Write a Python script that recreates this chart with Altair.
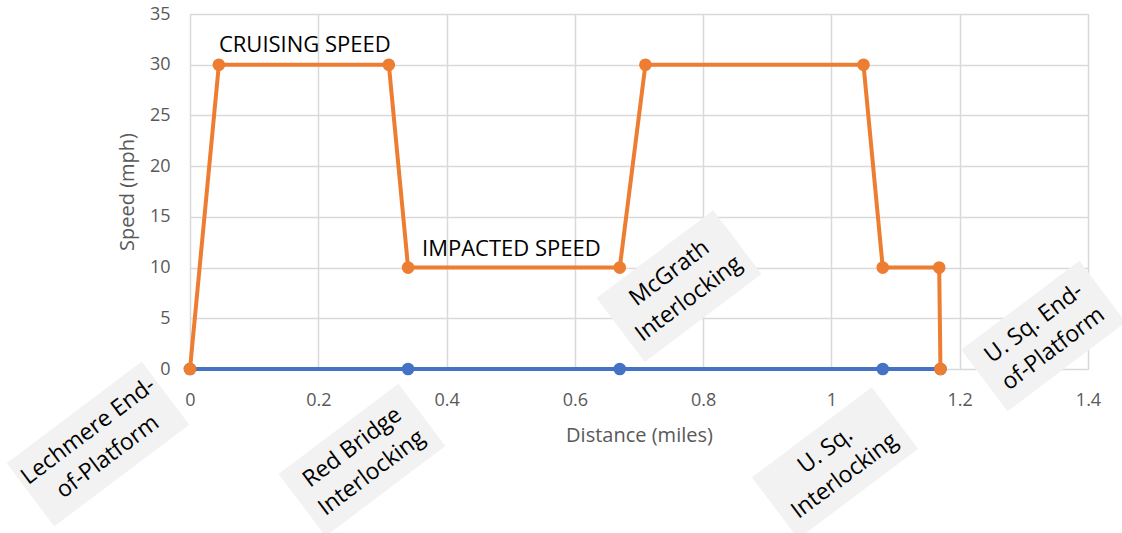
import altair as alt
import pandas as pd

# ---- data ----
dist_orange = [0, 0.045, 0.31, 0.34, 0.67, 0.71, 1.05, 1.08, 1.168, 1.17]
speed_orange = [0, 30, 30, 10, 10, 30, 30, 10, 10, 0]
dist_blue = [0, 0.34, 0.67, 1.08, 1.17]
speed_blue = [0, 0, 0, 0, 0]

x_ticks = [0, 0.2, 0.4, 0.6, 0.8, 1.0, 1.2, 1.4]
y_ticks = [0, 5, 10, 15, 20, 25, 30, 35]

speed_labels = ["CRUISING SPEED", "IMPACTED SPEED"]
speed_label_x = [0.179, 0.501]
speed_label_y = [31.28, 11.14]

place_line1 = ["Lechmere End-", "Red Bridge", "McGrath", "U. Sq.", "U. Sq. End-"]
place_line2 = ["of-Platform", "Interlocking", "Interlocking", "Interlocking", "of-Platform"]
place_x = [-0.1434, 0.2681, 0.7624, 1.0056, 1.3306]
place_y = [-7.39, -8.97, 8.18, -9.27, 3.25]
box_w = [169, 150, 146, 150, 148]
box_h = [79, 78, 80, 77, 77]

ORANGE = "#ED7D31"
BLUE = "#4472C4"
FONT = "Open Sans"

orange_df = pd.DataFrame({"d": dist_orange, "s": speed_orange, "o": list(range(len(dist_orange)))})
blue_df = pd.DataFrame({"d": dist_blue, "s": speed_blue, "o": list(range(len(dist_blue)))})
speed_df = pd.DataFrame({"t": speed_labels, "d": speed_label_x, "s": speed_label_y})
place_df = pd.DataFrame({
    "l1": place_line1, "l2": place_line2, "d": place_x, "s": place_y,
    "path": [f"M{-w/2},{-h/2}L{w/2},{-h/2}L{w/2},{h/2}L{-w/2},{h/2}Z" for w, h in zip(box_w, box_h)],
})

x_scale = alt.Scale(domain=[0, 1.4], nice=False, zero=False)
y_scale = alt.Scale(domain=[0, 35], nice=False)

x_axis = alt.Axis(values=x_ticks, format="~g", title="Distance (miles)", grid=True,
                  gridColor="#D9D9D9", gridWidth=1.5, domain=False, ticks=False, tickSize=0,
                  labelFont=FONT, labelFontSize=18, labelColor="#595959", labelPadding=22,
                  titleFont=FONT, titleFontSize=20, titleColor="#595959", titleFontWeight="normal",
                  titlePadding=16, labelFlush=False)
y_axis = alt.Axis(values=y_ticks, title="Speed (mph)", grid=True,
                  gridColor="#D9D9D9", gridWidth=1.5, domain=False, ticks=False, tickSize=0,
                  labelFont=FONT, labelFontSize=18, labelColor="#595959", labelPadding=20,
                  titleFont=FONT, titleFontSize=20, titleColor="#595959", titleFontWeight="normal",
                  titlePadding=12, labelFlush=False)

X = alt.X("d:Q", scale=x_scale, axis=x_axis)
Y = alt.Y("s:Q", scale=y_scale, axis=y_axis)

blue_line = alt.Chart(blue_df).mark_line(color=BLUE, strokeWidth=4).encode(x=X, y=Y, order="o:Q")
blue_pts = alt.Chart(blue_df).mark_circle(color=BLUE, size=160, opacity=1).encode(x=X, y=Y)

orange_line = alt.Chart(orange_df).mark_line(color=ORANGE, strokeWidth=4).encode(x=X, y=Y, order="o:Q")
orange_pts = alt.Chart(orange_df).mark_circle(color=ORANGE, size=160, opacity=1).encode(x=X, y=Y)

speed_text = alt.Chart(speed_df).mark_text(
    font=FONT, fontSize=22, color="#000000", align="center", baseline="alphabetic"
).encode(x=X, y=Y, text="t:N")

boxes = alt.Chart(place_df).mark_point(
    filled=True, fill="#F2F2F2", opacity=1, strokeWidth=0, angle=323
).encode(x=X, y=Y, shape=alt.Shape("path:N", scale=None), size=alt.value(4))

line1 = alt.Chart(place_df).mark_text(
    font=FONT, fontSize=23, color="#000000", align="center", baseline="middle",
    angle=323, dy=-16
).encode(x=X, y=Y, text="l1:N")

line2 = alt.Chart(place_df).mark_text(
    font=FONT, fontSize=23, color="#000000", align="center", baseline="middle",
    angle=323, dy=16
).encode(x=X, y=Y, text="l2:N")

chart = alt.layer(blue_line, blue_pts, orange_line, orange_pts, speed_text, boxes, line1, line2).properties(
    width=898, height=355,
    autosize=alt.AutoSizeParams(type="none"),
    padding={"left": 190, "top": 14, "right": 34, "bottom": 164},
).configure_view(strokeWidth=0).configure(background="white")

chart.save("out.html", embed_options={"renderer": "svg", "actions": False})
